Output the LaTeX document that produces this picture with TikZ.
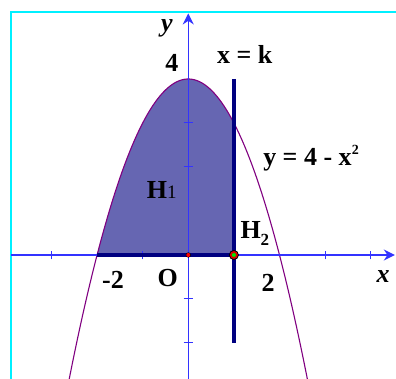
\documentclass[tikz,border=0pt]{standalone}
\usepackage{fontspec}
\setmainfont{Liberation Serif}
\usetikzlibrary{arrows.meta}
\definecolor{axisblue}{RGB}{51,51,255}
\definecolor{areafill}{RGB}{102,102,178}
\definecolor{navy}{RGB}{0,0,128}
\definecolor{plum}{RGB}{128,0,128}
\definecolor{framecyan}{RGB}{0,240,255}
\begin{document}
\begin{tikzpicture}[x=45.6pt,y=44pt,
  axis/.style={draw=axisblue,line width=1.5pt,-{Stealth[length=11pt,width=11pt]}},
  tick/.style={draw=axisblue,line width=1pt},
  curve/.style={draw=plum,line width=1.1pt},
  heavy/.style={draw=navy,line width=3.4pt},
  lbl/.style={font=\fontsize{26}{28}\selectfont\bfseries,inner sep=0pt},
  var/.style={font=\fontsize{26}{28}\selectfont\bfseries\itshape,inner sep=0pt},
]
  \useasboundingbox (-4.129,-2.818) rectangle (4.555,5.795);
  \clip (-4.129,-2.818) rectangle (4.555,5.795);
  \draw[framecyan,line width=1.6pt] (-3.888,5.516) rectangle (6,-4);
  % shaded part H1
  \fill[areafill] plot[domain=-2:1,samples=60] (\x,{4-\x*\x}) -- (1,0) -- (-2,0) -- cycle;
  \draw[curve] plot[domain=-2.7:2.7,samples=100] (\x,{4-\x*\x});
  \coordinate (xl) at (-3.888,0);
  \coordinate (xr) at (4.53,0);
  \coordinate (yb) at (0,-2.9);
  \coordinate (yt) at (0,5.49);
  \draw[axis] (xl) -- (xr);
  \draw[axis] (yb) -- (yt);
  \foreach \t in {-3,-1,3,4} \draw[tick] (\t,-0.1) -- (\t,0.1);
  \foreach \t in {-2,-1,2,3} \draw[tick] (-0.1,\t) -- (0.1,\t);
  \coordinate (O) at (0,0);
  \coordinate (A) at (-2,0);
  \coordinate (K) at (1,0);
  \coordinate (Kt) at (1,4);
  \coordinate (Kb) at (1,-2);
  \draw[heavy] (A) -- (K);
  \draw[heavy] (Kt) -- (Kb);
  \fill[black] (O) circle (2.6pt);
  \fill[red] (O) circle (2pt);
  \fill[black] (K) circle (5pt);
  \fill[red!85!black] (K) circle (4pt);
  \fill[green!90!black] (K) circle (2pt);
  \node[var] (ylab) at (-0.467,5.16) {y};
  \node[lbl] (four) at (-0.36,4.36) {4};
  \node[lbl] (linek) at (1.24,4.55) {x = k};
  \node[lbl,anchor=west] (eq) at (1.64,2.2) {y = 4 - x\raisebox{11pt}{\fontsize{14}{14}\selectfont 2}};
  \node[lbl] (hone) at (-0.58,1.48) {H{\mdseries\fontsize{19}{20}\selectfont 1}};
  \node[lbl] (htwo) at (1.46,0.5) {H\raisebox{-7pt}{\fontsize{17}{17}\selectfont 2}};
  \node[lbl] (mtwo) at (-1.65,-0.57) {-2};
  \node[lbl] (orig) at (-0.45,-0.52) {O};
  \node[lbl] (two) at (1.75,-0.64) {2};
  \node[var] (xlab) at (4.27,-0.5) {x};
\end{tikzpicture}
\end{document}
